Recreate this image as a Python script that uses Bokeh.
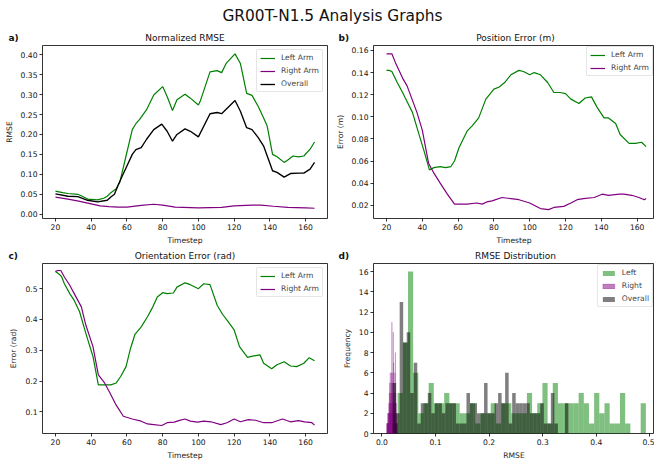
import numpy as np
from bokeh.plotting import figure
from bokeh.layouts import column, row
from bokeh.models import Range1d, FixedTicker, PrintfTickFormatter, Label
from bokeh.embed import file_html
from bokeh.resources import INLINE

FONT = "DejaVu Sans"
GREEN = "#008000"
PURPLE = "#800080"
BLACK = "#000000"

# ---------------- data ----------------
SUPTITLE = "GR00T-N1.5 Analysis Graphs"
TITLES = ["Normalized RMSE", "Position Error (m)", "Orientation Error (rad)", "RMSE Distribution"]
PANEL_TAGS = ["a)", "b)", "c)", "d)"]

# a) Normalized RMSE
a_left_t = [20, 24, 27, 32.5, 35, 38, 43.5, 47, 49, 51, 54, 56, 59.5, 63, 65, 67, 71, 75, 80, 82.5,
            85.5, 88, 92.5, 95.5, 100, 101, 106.5, 110.5, 113, 115.5, 120.5, 123.5, 127, 130, 133.5,
            136.5, 138.5, 141.5, 144, 148, 149.5, 153, 156, 159, 162.5, 165]
a_left_v = [0.058, 0.054, 0.052, 0.050, 0.045, 0.038, 0.036, 0.040, 0.045, 0.054, 0.064, 0.080, 0.146,
            0.212, 0.227, 0.237, 0.262, 0.299, 0.320, 0.295, 0.260, 0.287, 0.301, 0.291, 0.274, 0.283,
            0.357, 0.360, 0.355, 0.378, 0.402, 0.378, 0.303, 0.298, 0.270, 0.241, 0.221, 0.150, 0.144,
            0.130, 0.134, 0.146, 0.144, 0.146, 0.163, 0.181]
a_right_t = [20, 27, 33, 40, 45, 50, 55, 60, 68, 75, 80, 87, 100, 113, 120, 130, 135, 142, 150, 160, 165]
a_right_v = [0.043, 0.038, 0.033, 0.026, 0.021, 0.019, 0.018, 0.018, 0.022, 0.025, 0.023, 0.018, 0.016,
             0.017, 0.021, 0.023, 0.023, 0.020, 0.017, 0.016, 0.015]
a_all_t = [20, 27, 32.5, 38, 43.5, 49, 51, 53, 55, 57, 60, 63, 65, 68, 71, 75, 79.5, 82.5, 85.5, 88,
           92.5, 95.5, 100, 106.5, 110.5, 113, 120.5, 123.5, 127, 130, 133.5, 136.5, 141.5, 144, 148,
           151.5, 156, 159, 162.5, 165]
a_all_v = [0.051, 0.045, 0.044, 0.035, 0.031, 0.035, 0.043, 0.050, 0.072, 0.092, 0.121, 0.150, 0.162,
           0.167, 0.188, 0.212, 0.226, 0.208, 0.183, 0.200, 0.214, 0.208, 0.194, 0.252, 0.255, 0.252,
           0.285, 0.258, 0.217, 0.212, 0.192, 0.171, 0.109, 0.105, 0.093, 0.102, 0.103, 0.103, 0.113, 0.130]

# b) Position Error (m)
b_left_t = [20, 21.5, 23, 26, 29, 30.5, 34.5, 38, 41, 44, 46.5, 50, 53, 56, 58, 60.5, 65, 68, 71.5, 75.5,
            80, 83, 86, 89.5, 94, 96.5, 100, 102.5, 106, 110, 113.5, 117, 120, 123, 127.5, 131, 134.5,
            137.5, 141.5, 144, 148, 150.5, 155.5, 159, 162.5, 165]
b_left_v = [0.142, 0.142, 0.141, 0.131, 0.122, 0.117, 0.104, 0.085, 0.069, 0.052, 0.054, 0.055, 0.054,
            0.055, 0.060, 0.072, 0.087, 0.092, 0.099, 0.116, 0.125, 0.127, 0.131, 0.138, 0.142, 0.141,
            0.138, 0.140, 0.138, 0.131, 0.122, 0.122, 0.121, 0.116, 0.112, 0.117, 0.118, 0.109, 0.099,
            0.099, 0.094, 0.084, 0.076, 0.076, 0.077, 0.073]
b_right_t = [20, 23, 25, 29, 31.5, 37, 40, 43.5, 46.5, 50, 54, 58, 65, 70.5, 73.5, 76, 79, 84.5, 89.5, 94,
             100, 106, 110.5, 113.5, 119, 123, 126.5, 130, 136, 140.5, 144, 150, 152.5, 157, 161, 164, 165]
b_right_v = [0.157, 0.157, 0.149, 0.135, 0.128, 0.104, 0.088, 0.058, 0.049, 0.040, 0.030, 0.021, 0.021,
             0.022, 0.021, 0.023, 0.024, 0.027, 0.026, 0.025, 0.022, 0.017, 0.016, 0.018, 0.019, 0.022,
             0.025, 0.026, 0.027, 0.030, 0.029, 0.030, 0.030, 0.029, 0.027, 0.025, 0.026]

# c) Orientation Error (rad)
c_left_t = [20, 22.5, 23.5, 25, 28, 30.5, 33.5, 37, 41, 44, 51, 54, 56.5, 59.5, 62, 64.5, 68, 71.5, 74.5,
            77, 80, 82.5, 86, 88, 92.5, 95.5, 100, 103, 106.5, 110.5, 113.5, 116, 120, 123, 127.5, 131,
            134.5, 136.5, 141, 144, 148, 151.5, 155, 159, 162, 165]
c_left_v = [0.556, 0.545, 0.538, 0.516, 0.484, 0.462, 0.425, 0.355, 0.280, 0.188, 0.188, 0.194, 0.215,
            0.247, 0.306, 0.352, 0.376, 0.409, 0.441, 0.473, 0.487, 0.484, 0.486, 0.505, 0.519, 0.513,
            0.500, 0.516, 0.513, 0.446, 0.417, 0.398, 0.366, 0.312, 0.277, 0.282, 0.285, 0.258, 0.240,
            0.253, 0.263, 0.249, 0.247, 0.258, 0.276, 0.266]
c_right_t = [20, 21.5, 23, 25, 28, 30.5, 34.5, 37, 41, 44, 47.5, 50, 54, 58, 63, 68, 71.5, 75, 79.5, 82.5,
             86.5, 89, 92.5, 95.5, 99.5, 103, 107, 112.5, 116, 120, 123.5, 128, 132, 136.5, 141, 147,
             151.5, 156, 159.5, 163.5, 165]
c_right_v = [0.556, 0.559, 0.559, 0.538, 0.511, 0.484, 0.441, 0.382, 0.312, 0.220, 0.194, 0.167, 0.122,
             0.086, 0.077, 0.070, 0.061, 0.059, 0.056, 0.065, 0.067, 0.072, 0.077, 0.070, 0.067, 0.070,
             0.068, 0.059, 0.065, 0.077, 0.068, 0.075, 0.073, 0.065, 0.065, 0.077, 0.068, 0.072, 0.068,
             0.065, 0.057]

# d) RMSE Distribution: 50 bins per series between min and max
hist_left_range = (0.010, 0.4925)
hist_left_counts = [0, 1, 4, 9, 16, 6, 2, 3, 5, 3,
                    3, 4, 3, 3, 2, 2, 3, 1, 2, 2,
                    3, 1, 3, 3, 2, 2, 2, 4, 2, 3,
                    5, 1, 5, 3, 3, 3, 3, 4, 3, 1,
                    4, 2, 3, 1, 1, 4, 1, 0, 0, 3]
hist_right_range = (0.0085, 0.0285)
hist_right_counts = [0, 1, 0, 1, 1, 1, 2, 1, 2, 2,
                     1, 3, 2, 4, 2, 5, 3, 6, 4, 2,
                     3, 5, 2, 6, 4, 11, 3, 5, 2, 6,
                     4, 10, 3, 7, 2, 5, 3, 4, 2, 6,
                     3, 8, 2, 4, 1, 3, 1, 2, 0, 1]
hist_all_range = (0.020, 0.348)
hist_all_counts = [5, 2, 13, 9, 10, 4, 7, 1, 3, 3,
                   4, 2, 3, 3, 2, 3, 3, 3, 1, 1,
                   1, 4, 3, 3, 2, 2, 5, 2, 2, 3,
                   4, 3, 6, 1, 4, 3, 3, 3, 3, 2,
                   2, 2, 3, 1, 1, 4, 1, 0, 0, 3]

x_ticks = [20, 40, 60, 80, 100, 120, 140, 160]


def make_fig(width, height, xr, yr, bl, br, bt, bb):
    p = figure(width=width, height=height, x_range=Range1d(*xr), y_range=Range1d(*yr),
               output_backend="svg", toolbar_location=None,
               min_border_left=bl, min_border_right=br, min_border_top=bt, min_border_bottom=bb)
    p.outline_line_color = "black"
    p.outline_line_width = 0.8
    p.xgrid.visible = False
    p.ygrid.visible = False
    p.background_fill_color = "white"
    p.border_fill_color = "white"
    for ax in p.axis:
        ax.axis_line_color = None
        ax.major_tick_line_color = "black"
        ax.major_tick_line_width = 0.8
        ax.major_tick_out = 3
        ax.major_tick_in = 0
        ax.minor_tick_line_color = None
        ax.major_label_text_font = FONT
        ax.major_label_text_font_size = "7.6px"
        ax.major_label_text_color = "#111111"
        ax.major_label_standoff = 2
        ax.axis_label_text_font = FONT
        ax.axis_label_text_font_size = "7.6px"
        ax.axis_label_text_font_style = "normal"
        ax.axis_label_text_color = "#222222"
    p.xaxis.axis_label_standoff = 3
    p.yaxis.axis_label_standoff = 4
    return p


def style_legend(p, margin, glyph_h=8):
    lg = p.legend[0]
    lg.location = "top_right"
    lg.label_text_font = FONT
    lg.label_text_font_size = "7.6px"
    lg.label_height = 8
    lg.glyph_height = glyph_h
    lg.glyph_width = 15
    lg.label_standoff = 6
    lg.spacing = 4
    lg.padding = 3
    lg.margin = margin
    lg.border_line_color = "#cccccc"
    lg.border_line_width = 0.8
    lg.background_fill_alpha = 0.8
    if "border_radius" in lg.properties():
        lg.border_radius = 2


def header(height, items):
    h = figure(width=654, height=height, x_range=Range1d(0, 1), y_range=Range1d(0, 1),
               x_axis_type=None, y_axis_type=None, output_backend="svg", toolbar_location=None,
               min_border=0)
    h.outline_line_color = None
    h.background_fill_color = "white"
    for (x, y, txt, size, style, align) in items:
        h.add_layout(Label(x=x, y=y, x_units="screen", y_units="screen", text=txt,
                           text_font=FONT, text_font_size=size, text_font_style=style,
                           text_align=align, text_baseline="middle", text_color="#111111"))
    return h


LW = 1.2

# header with suptitle and titles of a), b)
h1 = header(44, [
    (332, 29, SUPTITLE, "15.4px", "normal", "center"),
    (8, 6.5, PANEL_TAGS[0], "9px", "bold", "left"),
    (184.5, 6.5, TITLES[0], "9px", "normal", "center"),
    (338, 6.5, PANEL_TAGS[1], "9px", "bold", "left"),
    (515, 6.5, TITLES[1], "9px", "normal", "center"),
])
h2 = header(15, [
    (8, 7, PANEL_TAGS[2], "9px", "bold", "left"),
    (184.5, 7, TITLES[2], "9px", "normal", "center"),
    (338, 7, PANEL_TAGS[3], "9px", "bold", "left"),
    (515, 7, TITLES[3], "9px", "normal", "center"),
])

# ---- a ----
pa = make_fig(330, 203, (12.75, 172.25), (-0.0107, 0.423), 42, 3, 1, 27)
pa.line(a_left_t, a_left_v, color=GREEN, line_width=LW, legend_label="Left Arm")
pa.line(a_right_t, a_right_v, color=PURPLE, line_width=LW, legend_label="Right Arm")
pa.line(a_all_t, a_all_v, color=BLACK, line_width=1.35, legend_label="Overall")
pa.xaxis.ticker = FixedTicker(ticks=x_ticks)
pa.yaxis.ticker = FixedTicker(ticks=[0, 0.05, 0.10, 0.15, 0.20, 0.25, 0.30, 0.35, 0.40])
pa.yaxis.formatter = PrintfTickFormatter(format="%.2f")
pa.xaxis.axis_label = "Timestep"
pa.yaxis.axis_label = "RMSE"
style_legend(pa, 4)

# ---- b ----
pb = make_fig(324, 203, (12.75, 169.7), (0.008, 0.1645), 43, 0, 1, 27)
pb.line(b_left_t, b_left_v, color=GREEN, line_width=LW, legend_label="Left Arm")
pb.line(b_right_t, b_right_v, color=PURPLE, line_width=LW, legend_label="Right Arm")
pb.xaxis.ticker = FixedTicker(ticks=x_ticks)
pb.yaxis.ticker = FixedTicker(ticks=[0.02, 0.04, 0.06, 0.08, 0.10, 0.12, 0.14, 0.16])
pb.yaxis.formatter = PrintfTickFormatter(format="%.2f")
pb.xaxis.axis_label = "Timestep"
pb.yaxis.axis_label = "Error (m)"
style_legend(pb, 1)

# ---- c ----
pc = make_fig(330, 200, (12.75, 172.25), (0.030, 0.5817), 42, 3, 1, 28)
pc.line(c_left_t, c_left_v, color=GREEN, line_width=LW, legend_label="Left Arm")
pc.line(c_right_t, c_right_v, color=PURPLE, line_width=LW, legend_label="Right Arm")
pc.xaxis.ticker = FixedTicker(ticks=x_ticks)
pc.yaxis.ticker = FixedTicker(ticks=[0.1, 0.2, 0.3, 0.4, 0.5])
pc.yaxis.formatter = PrintfTickFormatter(format="%.1f")
pc.xaxis.axis_label = "Timestep"
pc.yaxis.axis_label = "Error (rad)"
style_legend(pc, 4)

# ---- d ----
pd_ = make_fig(324, 200, (-0.0157, 0.5086), (0, 16.8), 43, 0, 1, 28)
for rng, counts, color, name in [(hist_left_range, hist_left_counts, GREEN, "Left"),
                                 (hist_right_range, hist_right_counts, PURPLE, "Right"),
                                 (hist_all_range, hist_all_counts, BLACK, "Overall")]:
    edges = np.linspace(rng[0], rng[1], len(counts) + 1)
    kw = dict(line_color=None)
    if name == "Right":
        kw = dict(line_color=PURPLE, line_alpha=0.35, line_width=0.6)
    pd_.quad(left=edges[:-1], right=edges[1:], bottom=0, top=counts, fill_color=color,
             fill_alpha=0.5, legend_label=name, **kw)
pd_.xaxis.ticker = FixedTicker(ticks=[0.0, 0.1, 0.2, 0.3, 0.4, 0.5])
pd_.xaxis.formatter = PrintfTickFormatter(format="%.1f")
pd_.yaxis.ticker = FixedTicker(ticks=[0, 2, 4, 6, 8, 10, 12, 14, 16])
pd_.yaxis.formatter = PrintfTickFormatter(format="%d")
pd_.xaxis.axis_label = "RMSE"
pd_.yaxis.axis_label = "Frequency"
style_legend(pd_, 1, glyph_h=6)

layout = column(h1, row(pa, pb), h2, row(pc, pd_))
open("out.html", "w").write(file_html(layout, INLINE, title=SUPTITLE))
